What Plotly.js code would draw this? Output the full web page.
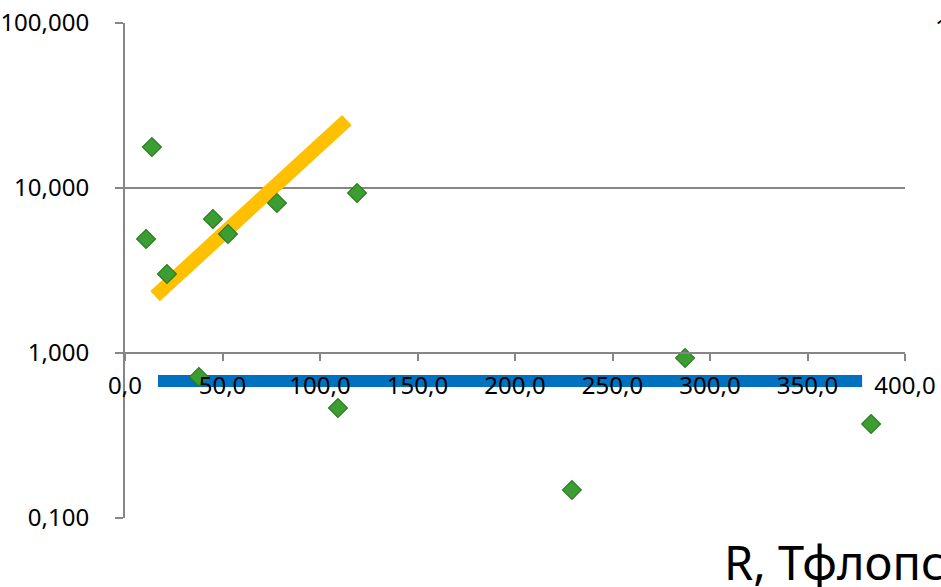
<!DOCTYPE html>
<html>
<head>
<meta charset="utf-8">
<script src="https://cdn.plot.ly/plotly-3.0.1.min.js"></script>
<style>html,body{margin:0;padding:0;background:#fff;}#chart{width:941px;height:587px;}</style>
</head>
<body>
<div id="chart"></div>
<script>
// Points
const pointsX = [13.8, 10.8, 21.5, 45.1, 52.8, 77.9, 119.0, 37.9, 109.2, 229.2, 287.2, 382.6];
const pointsY = [17.7, 4.91, 3.01, 6.49, 5.26, 8.11, 9.33, 0.716, 0.464, 0.148, 0.932, 0.371];
// Orange trend line endpoints
const orangeX = [15.4, 113.8];
const orangeY = [2.21, 25.8];
// Blue line endpoints
const blueX = [16.9, 378.0];
const blueY = [0.676, 0.676];
// Tick labels
const yTickVals = [0.1, 1, 10, 100];
const yTickText = ["0,100", "1,000", "10,000", "100,000"];
const xTickVals = [0, 50, 100, 150, 200, 250, 300, 350, 400];
const xTickText = ["0,0", "50,0", "100,0", "150,0", "200,0", "250,0", "300,0", "350,0", "400,0"];
const xTitle = "R, Тфлопс";

const font = "Noto Sans, DejaVu Sans, sans-serif";
const axisColor = "#868686";

const traces = [
  {x: orangeX, y: orangeY, mode: "lines", line: {color: "#FFC000", width: 14}, hoverinfo: "skip", showlegend: false},
  {x: blueX, y: blueY, mode: "lines", line: {color: "#0070C0", width: 12}, hoverinfo: "skip", showlegend: false},
  {x: pointsX, y: pointsY, mode: "markers", showlegend: false,
   marker: {symbol: "diamond", size: 14.5, color: "#3C9E32", line: {color: "#2A7A20", width: 1.2}}}
];

const layout = {
  width: 941, height: 587,
  margin: {l: 125, r: 36, t: 23, b: 69},
  paper_bgcolor: "#fff", plot_bgcolor: "#fff",
  font: {family: font, size: 25, color: "#000"},
  showlegend: false,
  xaxis: {
    range: [0, 400], tickvals: xTickVals, ticktext: xTickText,
    anchor: "free", position: 1/3,
    showgrid: false, zeroline: false,
    showline: true, linecolor: axisColor, linewidth: 2,
    ticks: "outside", ticklen: 7, tickwidth: 2, tickcolor: axisColor,
    tickfont: {family: font, size: 24, color: "#000"},
    ticklabelstandoff: 4
  },
  yaxis: {
    type: "log", range: [-1, 2], tickvals: yTickVals, ticktext: yTickText,
    showgrid: true, gridcolor: axisColor, gridwidth: 2, zeroline: false,
    showline: true, linecolor: axisColor, linewidth: 2,
    ticks: "outside", ticklen: 8, tickwidth: 2, tickcolor: axisColor,
    tickfont: {family: font, size: 24, color: "#000"},
    ticklabelstandoff: 21
  },
  annotations: [
    {text: xTitle, xref: "paper", yref: "paper", x: (722 - 125) / 780, y: (518 - 562) / 495,
     xanchor: "left", yanchor: "middle", showarrow: false, font: {family: font, size: 47, color: "#000"}},
    {text: "1", xref: "paper", yref: "paper", x: (933 - 125) / 780, y: (518 - 8) / 495,
     xanchor: "left", yanchor: "top", showarrow: false, font: {family: font, size: 25, color: "#000"}}
  ]
};

Plotly.newPlot("chart", traces, layout, {displayModeBar: false, staticPlot: true});
</script>
</body>
</html>
